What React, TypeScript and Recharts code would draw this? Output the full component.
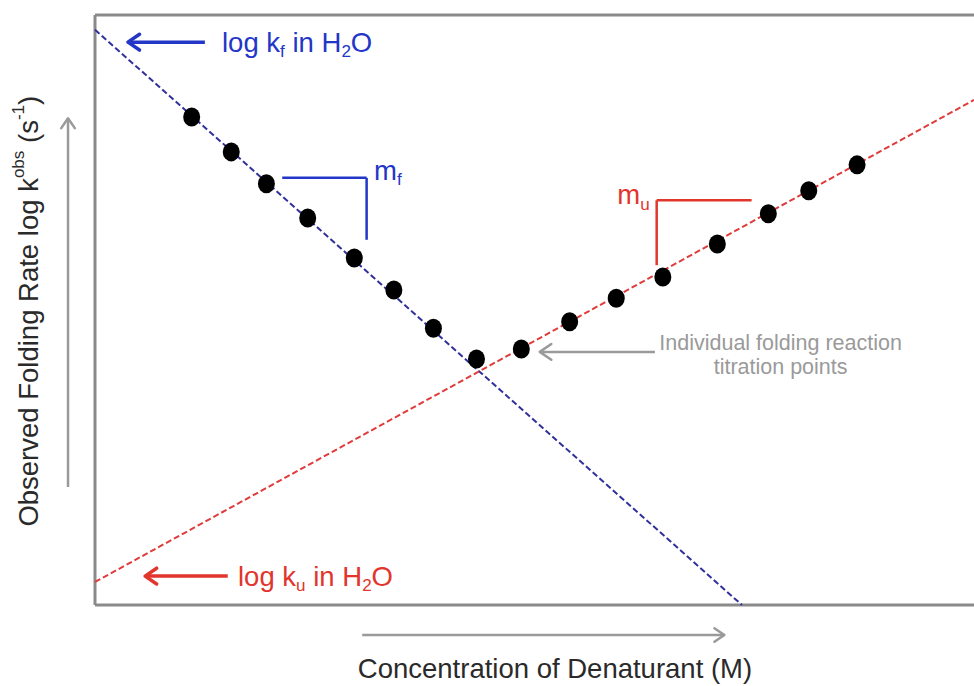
import { ReferenceDot, ReferenceLine, Scatter, ScatterChart, XAxis, YAxis } from 'recharts'

// titration points, folding limb (left) and unfolding limb (right)
const foldingX = [1.1, 1.55, 1.95, 2.42, 2.95, 3.4, 3.85, 4.34]
const foldingY = [8.27, 7.68, 7.14, 6.56, 5.88, 5.34, 4.69, 4.17]
const unfoldingX = [4.85, 5.4, 5.93, 6.46, 7.08, 7.66, 8.12, 8.67]
const unfoldingY = [4.34, 4.8, 5.2, 5.56, 6.12, 6.63, 7.02, 7.46]

// extrapolated limbs, end points
const foldingLimb = [{ x: 0, y: 9.75 }, { x: 7.36, y: 0 }]
const unfoldingLimb = [{ x: 0, y: 0.39 }, { x: 10, y: 8.56 }]

const points = [
  ...foldingX.map((x, i) => ({ x, y: foldingY[i] })),
  ...unfoldingX.map((x, i) => ({ x, y: unfoldingY[i] })),
]

const FONT = '"Liberation Sans", Arial, sans-serif'
const BLUE = '#2236c8'
const RED = '#e2352c'
const GRAY = '#9a9a9a'
const FRAME = '#8a8a8a'

const arrow = (color: string, width: number, head = 14) => (p: any) => {
  const { x1, y1, x2, y2 } = p
  const a = Math.atan2(y2 - y1, x2 - x1)
  const s = 0.6
  const ax = x2 - head * Math.cos(a - s)
  const ay = y2 - head * Math.sin(a - s)
  const bx = x2 - head * Math.cos(a + s)
  const by = y2 - head * Math.sin(a + s)
  return (
    <g>
      <line x1={x1} y1={y1} x2={x2} y2={y2} stroke={color} strokeWidth={width} />
      <polyline
        points={`${ax},${ay} ${x2},${y2} ${bx},${by}`}
        fill='none'
        stroke={color}
        strokeWidth={width}
        strokeLinecap='round'
        strokeLinejoin='round'
      />
    </g>
  )
}

const dot = (p: any) => <ellipse cx={p.cx} cy={p.cy} rx={8.5} ry={9.5} fill='#000' />

const sub = (t: string) => (
  <tspan baselineShift='sub' fontSize='0.62em'>
    {t}
  </tspan>
)
const sup = (t: string) => (
  <tspan baselineShift='super' fontSize='0.62em'>
    {t}
  </tspan>
)

const note =
  (content: any, color: string, size: number, anchor = 'start', rotate = 0) =>
  (p: any) => (
    <text
      x={p.cx}
      y={p.cy}
      fill={color}
      fontSize={size}
      fontFamily={FONT}
      textAnchor={anchor}
      dominantBaseline='central'
      transform={rotate ? `rotate(${rotate}, ${p.cx}, ${p.cy})` : undefined}>
      {content}
    </text>
  )

const App = () => {
  return (
    <div style={{ position: 'absolute', left: 0, top: 0 }}>
      <ScatterChart
        width={974}
        height={686}
        margin={{ top: 15, right: 0, left: 95, bottom: 81 }}>
        <XAxis type='number' dataKey='x' domain={[0, 10]} hide />
        <YAxis type='number' dataKey='y' domain={[0, 10]} hide />

        {/* frame: left, top, bottom */}
        <ReferenceLine x={0} stroke={FRAME} strokeWidth={3} />
        <ReferenceLine y={10} stroke={FRAME} strokeWidth={3} />
        <ReferenceLine y={0} stroke={FRAME} strokeWidth={3} />

        {/* limbs */}
        <ReferenceLine
          segment={foldingLimb}
          stroke='#30309c'
          strokeWidth={2}
          strokeDasharray='6 3'
        />
        <ReferenceLine
          segment={unfoldingLimb}
          stroke='#e03c3c'
          strokeWidth={2}
          strokeDasharray='6 3'
        />

        {/* slope brackets */}
        <ReferenceLine segment={[{ x: 2.13, y: 7.24 }, { x: 3.09, y: 7.24 }]} stroke={BLUE} strokeWidth={2.5} />
        <ReferenceLine segment={[{ x: 3.09, y: 7.24 }, { x: 3.09, y: 6.19 }]} stroke={BLUE} strokeWidth={2.5} />
        <ReferenceLine segment={[{ x: 6.39, y: 5.76 }, { x: 6.39, y: 6.86 }]} stroke={RED} strokeWidth={2.5} />
        <ReferenceLine segment={[{ x: 6.39, y: 6.86 }, { x: 7.47, y: 6.86 }]} stroke={RED} strokeWidth={2.5} />

        {/* annotation arrows */}
        <ReferenceLine segment={[{ x: 1.25, y: 9.54 }, { x: 0.375, y: 9.54 }]} shape={arrow(BLUE, 3.5)} />
        <ReferenceLine segment={[{ x: 1.51, y: 0.49 }, { x: 0.57, y: 0.49 }]} shape={arrow(RED, 3.5)} />
        <ReferenceLine segment={[{ x: 6.37, y: 4.29 }, { x: 5.06, y: 4.29 }]} shape={arrow(GRAY, 2.5)} />
        <ReferenceLine
          segment={[{ x: -0.307, y: 2.0 }, { x: -0.307, y: 8.25 }]}
          ifOverflow='visible'
          shape={arrow(GRAY, 2.5, 12)}
        />
        <ReferenceLine
          segment={[{ x: 3.04, y: -0.508 }, { x: 7.16, y: -0.508 }]}
          ifOverflow='visible'
          shape={arrow(GRAY, 2.5, 12)}
        />

        <Scatter data={points} shape={dot} isAnimationActive={false} />

        {/* labels */}
        <ReferenceDot
          x={1.445}
          y={9.54}
          shape={note(<>log k{sub('f')} in H{sub('2')}O</>, BLUE, 27.5)}
        />
        <ReferenceDot
          x={1.627}
          y={0.49}
          shape={note(<>log k{sub('u')} in H{sub('2')}O</>, RED, 27.5)}
        />
        <ReferenceDot x={3.174} y={7.37} shape={note(<>m{sub('f')}</>, BLUE, 27.5)} />
        <ReferenceDot x={6.31} y={6.95} shape={note(<>m{sub('u')}</>, RED, 27.5, 'end')} />
        <ReferenceDot x={7.8} y={4.44} shape={note('Individual folding reaction', GRAY, 21.5, 'middle')} />
        <ReferenceDot x={7.8} y={4.03} shape={note('titration points', GRAY, 21.5, 'middle')} />
        <ReferenceDot
          x={-0.762}
          y={4.98}
          ifOverflow='visible'
          shape={note(
            <>
              Observed Folding Rate log k{sup('obs')} (s{sup('-1')})
            </>,
            '#2a2a2a',
            27.5,
            'middle',
            -90,
          )}
        />
        <ReferenceDot
          x={5.233}
          y={-1.068}
          ifOverflow='visible'
          shape={note('Concentration of Denaturant (M)', '#2a2a2a', 27.5, 'middle')}
        />
      </ScatterChart>
    </div>
  )
}

export default App
